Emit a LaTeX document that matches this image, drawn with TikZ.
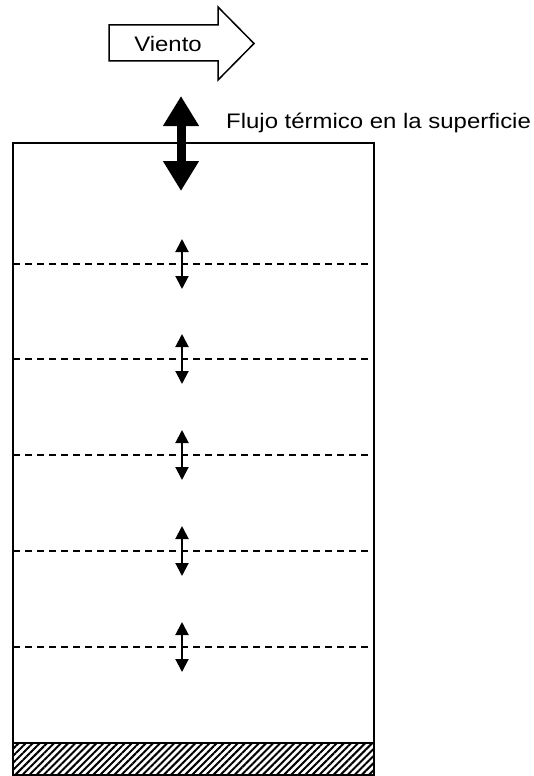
\documentclass[tikz,border=0pt]{standalone}
\usepackage{fontspec}
\setmainfont{Liberation Sans}
\usetikzlibrary{arrows.meta,patterns.meta,positioning}
\tikzset
{
    column/.style    = {draw=black, line width=2pt},
    layerline/.style = {draw=black, line width=1.5pt, dash pattern=on 7pt off 5pt},
    surfflux/.style  = {line width=9pt, {Triangle[width=34pt,length=30pt]}-{Triangle[width=34pt,length=30pt]}},
    mixflux/.style   = {line width=2pt, {Triangle[width=13pt,length=13pt]}-{Triangle[width=13pt,length=13pt]}},
    windarrow/.style = {draw=black, line width=1.5pt, fill=white, line join=miter},
    bigtext/.style   = {font=\fontsize{21}{25}\selectfont, inner sep=0pt, xscale=1.14}
}

\begin{document}
\begin{tikzpicture}[x=1pt, y=-1pt]
\useasboundingbox (0,0) rectangle (533,776);

% wind arrow
\draw[windarrow] (109,25) -- (218,25) -- (218,7) -- (254,43.5) -- (218,80) -- (218,61) -- (109,61) -- cycle;
\node[bigtext] (viento) at (168,44) {Viento};

% water column with bottom
\fill[pattern={Lines[angle=45,distance=5pt,line width=2pt]}] (13,743) rectangle (374,775);
\draw[column] (13,743) -- (374,743);
\draw[column] (13,143) rectangle (374,775);

% surface heat flux
\coordinate (surftop) at (181,96);
\coordinate (surfbot) at (181,191);
\draw[surfflux] (surftop) -- (surfbot);
\node[bigtext, anchor=base west] (flujo) at (226,128) {Flujo térmico en la superficie};

% layers and mixing between them
\foreach \y [count=\i] in {264,359,455,551,647}
{
    \draw[layerline] (13,\y) -- (374,\y);
    \coordinate (up\i) at (182,\y-25);
    \coordinate (dn\i) at (182,\y+25);
    \draw[mixflux] (up\i) -- (dn\i);
}
\end{tikzpicture}
\end{document}
